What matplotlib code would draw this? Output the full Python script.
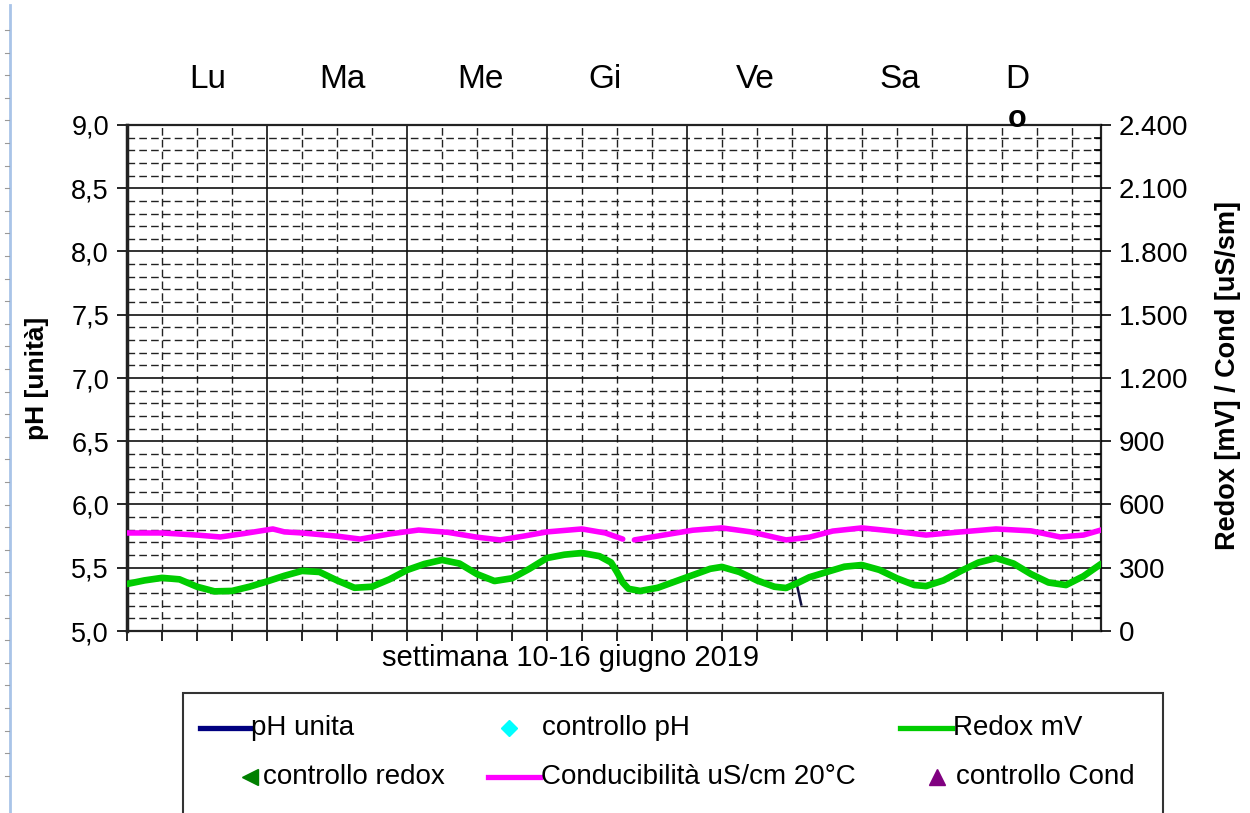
import matplotlib
matplotlib.use("Agg")
from matplotlib import pyplot as plt
from matplotlib.lines import Line2D
from matplotlib.patches import Rectangle
from matplotlib.ticker import MultipleLocator, FuncFormatter

plt.rcParams["font.family"] = ["Liberation Sans", "DejaVu Sans"]

# dati (ore dall'inizio della settimana)
giorni = ["Lu", "Ma", "Me", "Gi", "Ve", "Sa", "D"]
giorni_x = [208, 342, 480, 605, 755, 900, 1017]

redox_ore = [0, 3, 6, 9, 12, 15, 18, 21, 24, 27, 30, 33, 36, 39, 42, 45, 48, 51, 54,
             57, 60, 63, 66, 69, 72, 75, 78, 81, 83, 84, 85, 86, 88, 91, 94, 97, 100,
             102, 105, 108, 111, 113, 115, 117, 120, 123, 126, 129, 132, 135, 137,
             140, 143, 146, 149, 152, 155, 158, 161, 164, 167]
redox_mv = [223, 240, 252, 245, 210, 188, 190, 210, 235, 262, 285, 280, 240, 205, 210,
            245, 289, 318, 337, 320, 270, 237, 250, 295, 346, 362, 370, 355, 325, 280,
            230, 200, 190, 205, 235, 265, 295, 304, 280, 240, 210, 204, 228, 255, 280,
            305, 313, 290, 250, 218, 213, 240, 285, 325, 346, 320, 270, 230, 218, 260, 318]

cond_ore = [0, 6, 12, 16, 20, 25, 27, 30, 36, 40, 45, 50, 55, 60, 64, 68, 72, 78, 82,
            85, 86, 87, 92, 97, 102, 107, 113, 117, 121, 126, 131, 137, 143, 149, 155,
            160, 164, 167]
cond_us = [465, 465, 455, 446, 462, 484, 470, 465, 450, 436, 460, 479, 468, 445, 432,
           450, 470, 484, 465, 436, None, 432, 455, 478, 489, 470, 432, 445, 474, 489,
           475, 455, 470, 484, 475, 446, 455, 479]

ph_ore = [114.6, 115.6]
ph_val = [5.42, 5.21]

W, H = 1250, 813


def fx(x):
    return x / W


def fy(y):
    return 1 - y / H


fig = plt.figure(figsize=(12.5, 8.13), dpi=100)
ax = fig.add_axes([fx(127), fy(631), fx(1101) - fx(127), fy(125) - fy(631)])

ax.set_xlim(0, 167)
ax.set_ylim(5.0, 9.0)
ax.xaxis.set_major_locator(MultipleLocator(24))
ax.xaxis.set_minor_locator(MultipleLocator(6))
ax.yaxis.set_major_locator(MultipleLocator(0.5))
ax.yaxis.set_minor_locator(MultipleLocator(0.1))
ax.yaxis.set_major_formatter(FuncFormatter(lambda v, p: f"{v:.1f}".replace(".", ",")))
ax.tick_params(axis="x", which="both", direction="out", length=7, width=1.2, labelbottom=False)
ax.tick_params(axis="y", which="major", direction="out", length=7, width=1.2,
               labelsize=19.5, pad=6)
ax.tick_params(axis="y", which="minor", length=0)

ax.grid(which="major", color="#111111", linewidth=1.2)
ax.grid(which="minor", color="#222222", linewidth=1.0, linestyle=(0, (5.5, 3)))
ax.set_axisbelow(True)

ax.spines["left"].set_linewidth(2.5)
for s in ["bottom", "top", "right"]:
    ax.spines[s].set_linewidth(1.6)
for s in ax.spines:
    ax.spines[s].set_color("#222222")

ax.plot(ph_ore, ph_val, color="#101040", linewidth=1.8, zorder=5)

ax2 = ax.twinx()
ax2.set_ylim(0, 2400)
ax2.yaxis.set_major_locator(MultipleLocator(300))
ax2.yaxis.set_minor_locator(MultipleLocator(60))
ax2.yaxis.set_major_formatter(FuncFormatter(lambda v, p: f"{int(v):,}".replace(",", ".")))
ax2.tick_params(axis="y", which="major", direction="out", length=7, width=1.2,
                labelsize=20, pad=6)
ax2.tick_params(axis="y", which="minor", direction="in", length=5, width=1.2)
for s in ax2.spines:
    ax2.spines[s].set_visible(False)

ax2.plot(cond_ore, [v if v is not None else float("nan") for v in cond_us],
         color="#ff00ff", linewidth=4.0, solid_capstyle="round", solid_joinstyle="round")
ax2.plot(redox_ore, redox_mv, color="#00cc00", linewidth=4.8, solid_capstyle="round",
         solid_joinstyle="round")

# etichette assi
fig.text(fx(37), fy(378), "pH [unità]", rotation=90, ha="center", va="center",
         fontsize=19, fontweight="bold")
fig.text(fx(1228), fy(375), "Redox [mV] / Cond [uS/sm]", rotation=90, ha="center",
         va="center", fontsize=19.5, fontweight="bold")
fig.text(fx(570), fy(658), "settimana 10-16 giugno 2019", ha="center", va="center",
         fontsize=21)

for nome, x in zip(giorni, giorni_x):
    fig.text(fx(x), fy(80), nome, ha="center", va="center", fontsize=24)
fig.text(fx(1017), fy(119), "o", ha="center", va="center", fontsize=22,
         fontweight="bold")

# righello a sinistra
fig.add_artist(Line2D([fx(10), fx(10)], [fy(5), fy(813)], color="#a9c4e8",
                      linewidth=2, transform=fig.transFigure))
for i in range(34):
    y = 30 + i * 22.6
    fig.add_artist(Line2D([fx(5), fx(9)], [fy(y), fy(y)], color="#999999",
                          linewidth=0.8, transform=fig.transFigure))

# legenda
fig.add_artist(Rectangle((fx(183), fy(830)), fx(1163) - fx(183), fy(693) - fy(830),
                         fill=False, edgecolor="#333333", linewidth=1.5,
                         transform=fig.transFigure))
r1, r2 = 728, 777
voci = [
    ("line", 200, 250, r1, "#000080", "pH unita", 251),
    ("marker", 509, "D", r1, "#00ffff", "controllo pH", 542),
    ("line", 900, 952, r1, "#00cc00", "Redox mV", 953),
    ("marker", 250, "<", r2, "#008000", "controllo redox", 263),
    ("line", 488, 540, r2, "#ff00ff", "Conducibilità uS/cm 20°C", 541),
    ("marker", 937, "^", r2, "#800080", "controllo Cond", 956),
]
for v in voci:
    if v[0] == "line":
        _, x0, x1, y, col, txt, xt = v
        fig.add_artist(Line2D([fx(x0), fx(x1)], [fy(y), fy(y)], color=col,
                              linewidth=3.8, transform=fig.transFigure))
    else:
        _, xm, mk, y, col, txt, xt = v
        fig.add_artist(Line2D([fx(xm)], [fy(y)], marker=mk, color=col,
                              markersize=11 if mk != "D" else 8, linestyle="none",
                              transform=fig.transFigure))
    fig.text(fx(xt), fy(y), txt, ha="left", va="center", fontsize=20)

fig.savefig("out.png", dpi=100)
